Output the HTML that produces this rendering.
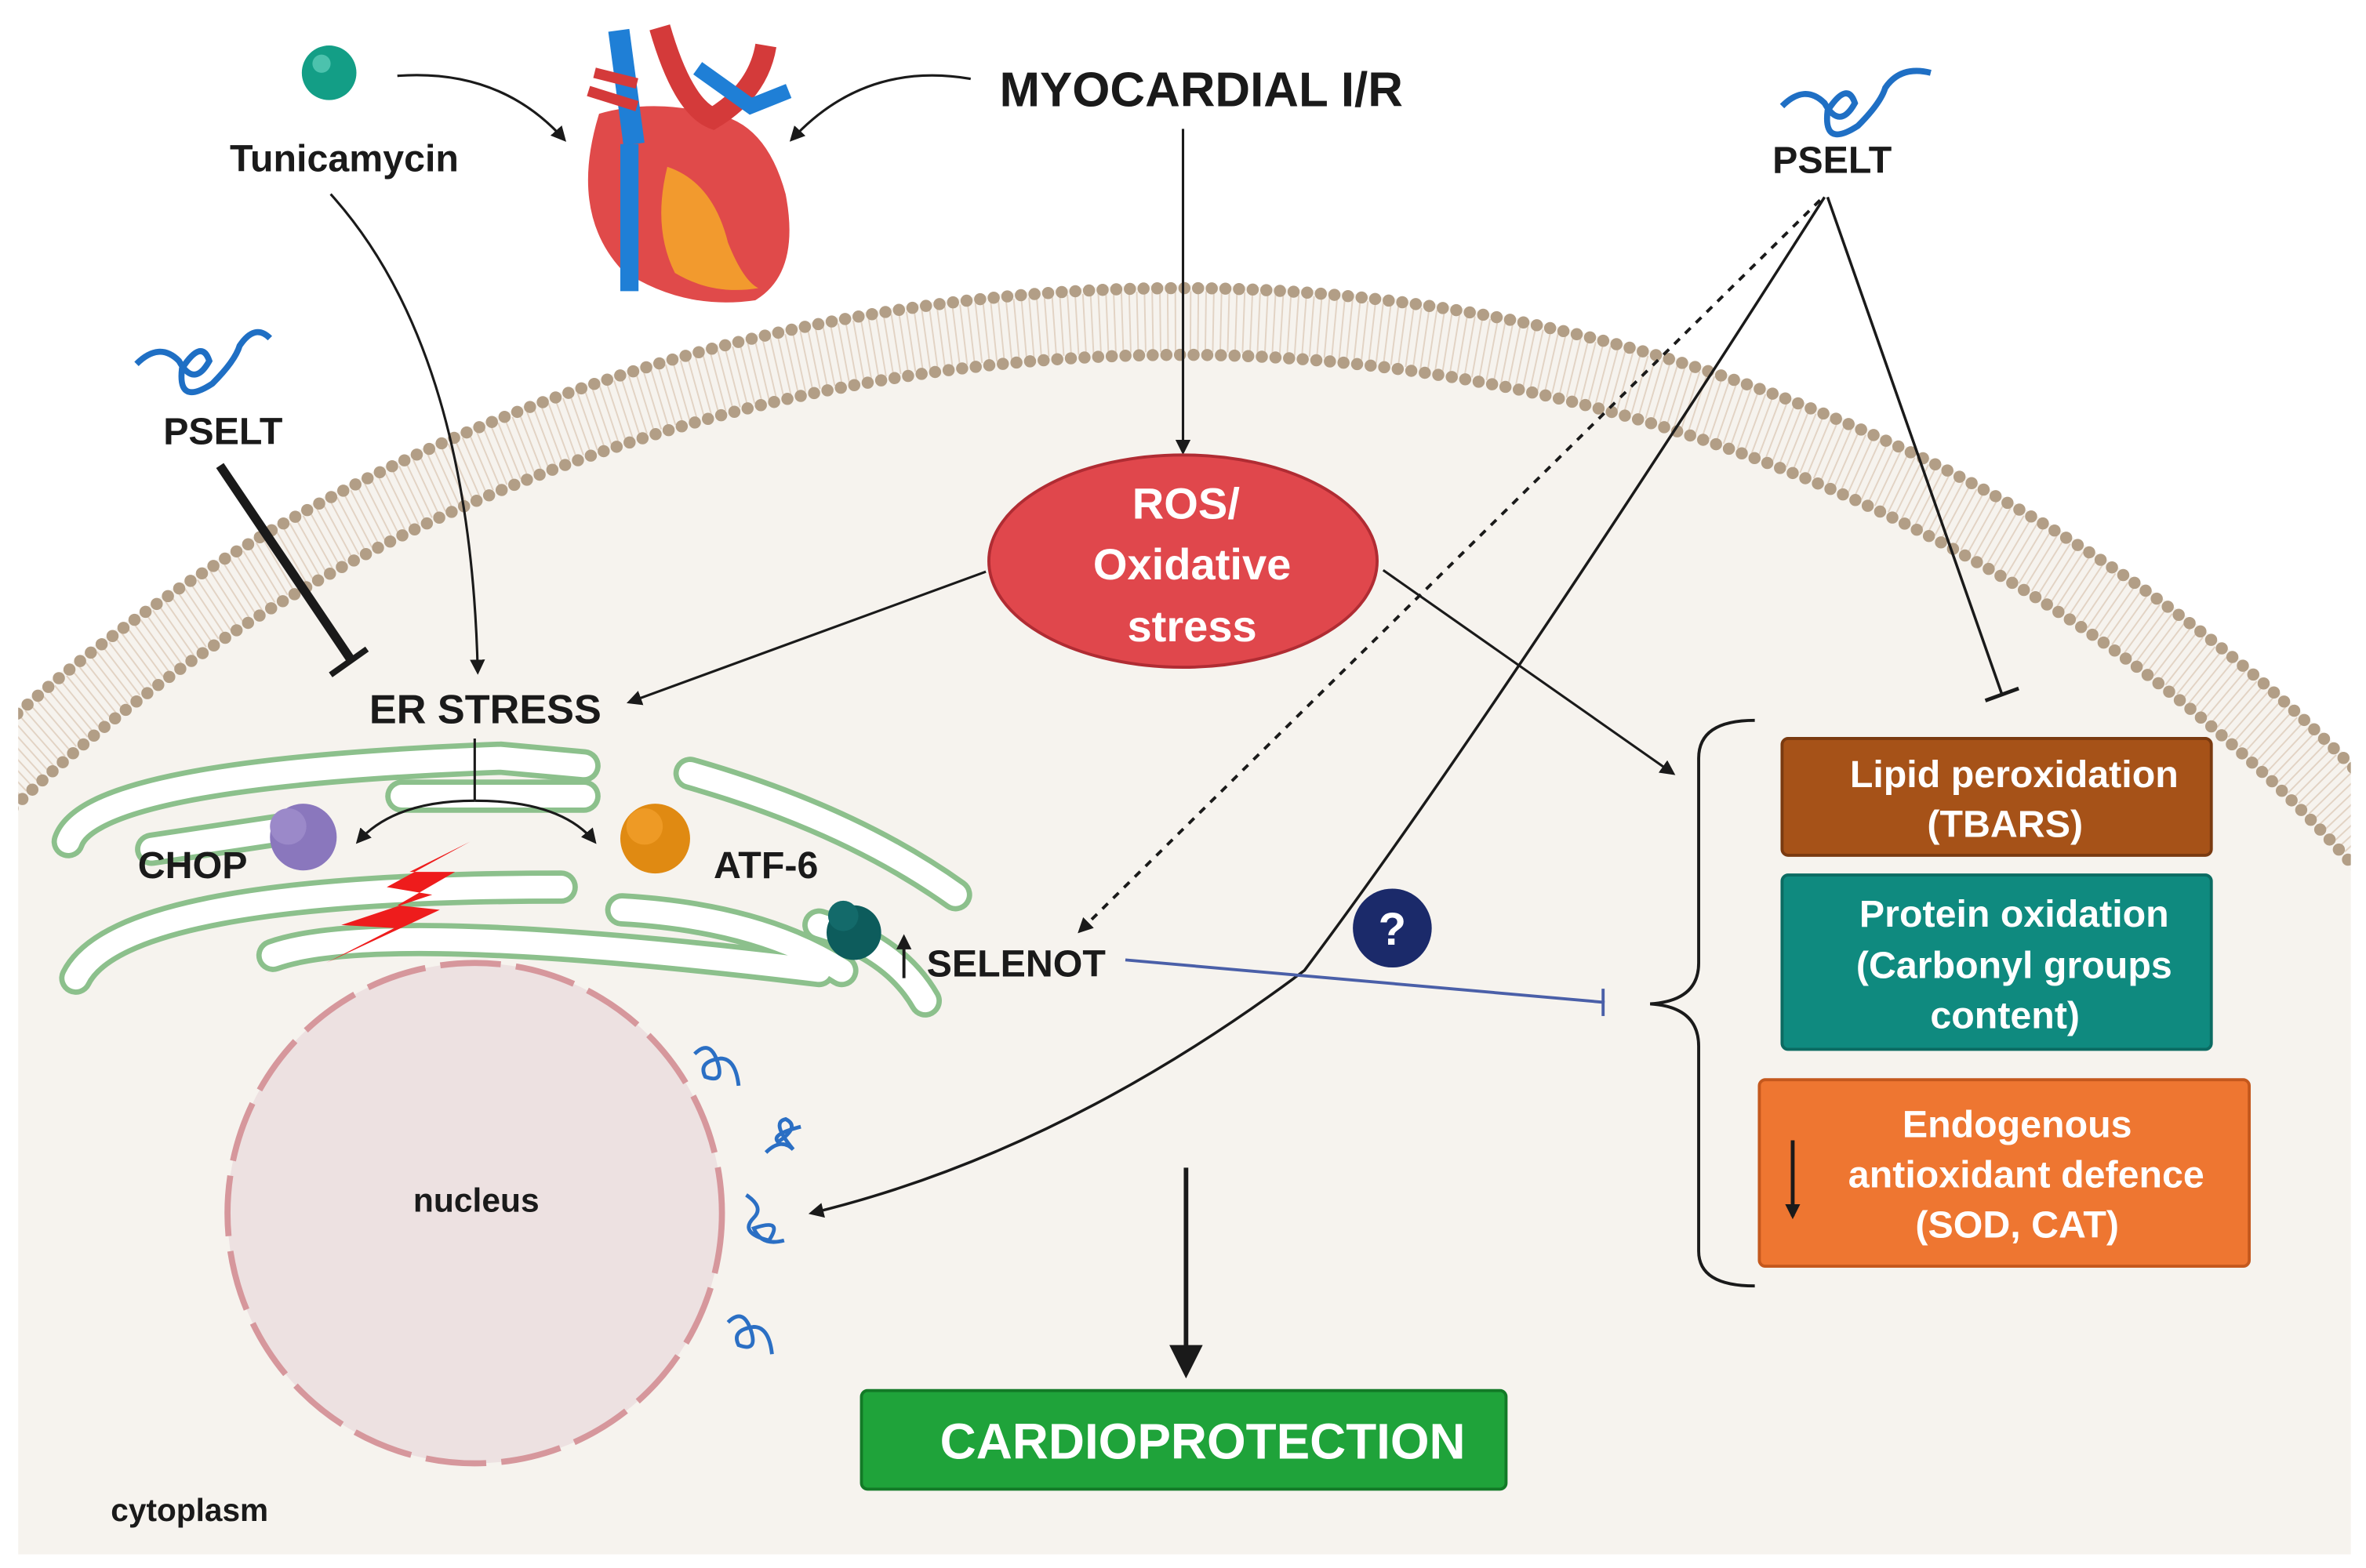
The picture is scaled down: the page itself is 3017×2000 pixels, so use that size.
<!DOCTYPE html>
<html><head><meta charset="utf-8"><style>
html,body{margin:0;padding:0;background:#fff;overflow:hidden;width:3017px;height:2000px;}
svg{display:block;}
text{font-family:"Liberation Sans",sans-serif;font-weight:bold;}
</style></head><body>
<svg width="3017" height="2000" viewBox="0 0 1560 1034" preserveAspectRatio="none" xmlns="http://www.w3.org/2000/svg">
<defs>
<marker id="ah" markerWidth="10" markerHeight="10" refX="8" refY="5" orient="auto" markerUnits="userSpaceOnUse"><path d="M0,0 L10,5 L0,10 z" fill="#1a1a1a"/></marker>
<marker id="ahb" markerWidth="22" markerHeight="22" refX="18" refY="11" orient="auto" markerUnits="userSpaceOnUse"><path d="M0,0 L22,11 L0,22 z" fill="#1a1a1a"/></marker>
<clipPath id="cell"><rect x="12" y="0" width="1538" height="1025"/></clipPath>
</defs>
<rect width="1560" height="1034" fill="#fff"/>
<g clip-path="url(#cell)">
  <path d="M-311,1150 A1091 962 0 0 1 780,188 A1043 962 0 0 1 1823,1150 Z" fill="#f6f3ee"/>
  <path d="M-286,1150 A1066 938 0 0 1 780,212 A1018 938 0 0 1 1798,1150" fill="none" stroke="#e2d3c4" stroke-width="40" stroke-dasharray="1 4"/>
  <path d="M-308,1150 A1088 960 0 0 1 780,190 A1040 960 0 0 1 1820,1150" fill="none" stroke="#b29e86" stroke-width="8" stroke-linecap="round" stroke-dasharray="0 9"/>
  <path d="M-264,1150 A1044 916 0 0 1 780,234 A996 916 0 0 1 1776,1150" fill="none" stroke="#b29e86" stroke-width="8" stroke-linecap="round" stroke-dasharray="0 9"/>
</g>

<!-- ER -->
<g fill="none" stroke-linecap="round">
 <g stroke="#8cc08c" stroke-width="22">
  <path d="M45,555 Q60,510 330,500 L385,505"/>
  <path d="M50,645 Q80,585 370,585"/>
  <path d="M100,560 L200,545"/>
  <path d="M265,525 L385,525"/>
  <path d="M180,630 Q250,605 540,640"/>
  <path d="M410,600 Q500,605 555,640"/>
  <path d="M455,510 Q560,540 630,590"/>
  <path d="M540,610 Q590,625 610,660"/>
 </g>
 <g stroke="#fff" stroke-width="15">
  <path d="M45,555 Q60,510 330,500 L385,505"/>
  <path d="M50,645 Q80,585 370,585"/>
  <path d="M100,560 L200,545"/>
  <path d="M265,525 L385,525"/>
  <path d="M180,630 Q250,605 540,640"/>
  <path d="M410,600 Q500,605 555,640"/>
  <path d="M455,510 Q560,540 630,590"/>
  <path d="M540,610 Q590,625 610,660"/>
 </g>
</g>
<polygon points="310,555 255,585 285,590 225,610 260,612 215,635 290,600 262,597 300,575 270,575" fill="#ee1c1c"/>
<circle cx="200" cy="552" r="22" fill="#8a77bd"/><circle cx="190" cy="545" r="12" fill="#9b89c9"/>
<circle cx="432" cy="553" r="23" fill="#e08a12"/><circle cx="425" cy="545" r="12" fill="#ee9a25"/>
<circle cx="563" cy="615" r="18" fill="#0d5c5c"/><circle cx="556" cy="604" r="10" fill="#136a6a"/>

<!-- nucleus -->
<ellipse cx="313" cy="800" rx="163" ry="165" fill="#ede1e1" stroke="#d6979c" stroke-width="4" stroke-dasharray="40 10"/>
<text x="314" y="799" font-size="22" text-anchor="middle" fill="#1a1a1a">nucleus</text>
<text x="125" y="1003" font-size="21" text-anchor="middle" fill="#1a1a1a">cytoplasm</text>
<g fill="none" stroke="#2b6fc4" stroke-width="2.5">
 <path d="M458,695 q10,-10 15,5 q5,15 -8,10 q-5,-10 10,-12 q10,0 12,18"/>
 <path d="M505,760 q10,-10 18,-2 q-15,-18 -5,-20 q10,5 -5,15 q-5,-5 15,-10"/>
 <path d="M492,788 q12,8 5,15 q-10,10 10,15 q10,-15 -10,-8 q5,12 20,8"/>
 <path d="M480,872 q10,-10 15,5 q5,15 -8,10 q-5,-10 10,-12 q10,0 12,18"/>
</g>

<!-- heart -->
<path d="M395,75 Q375,140 410,178 Q450,205 498,198 Q528,180 518,128 Q505,80 470,75 Q430,65 395,75z" fill="#e04a4a"/>
<path d="M440,110 Q470,120 480,160 Q490,185 500,190 Q470,195 445,180 Q430,150 440,110z" fill="#f29a2e"/>
<path d="M415,95 L415,192" stroke="#1f7fd6" stroke-width="12" fill="none"/>
<path d="M408,20 L418,95" stroke="#1f7fd6" stroke-width="14" fill="none"/>
<path d="M435,18 Q450,70 470,78 Q500,60 505,30" stroke="#d43a3a" stroke-width="14" fill="none"/>
<path d="M460,45 L495,70 L520,60" stroke="#1f7fd6" stroke-width="10" fill="none"/>
<path d="M388,60 L420,70 M392,48 L420,55" stroke="#d43a3a" stroke-width="7" fill="none"/>

<circle cx="217" cy="48" r="18" fill="#139e86"/><circle cx="212" cy="42" r="6" fill="#4cc2ad"/>
<text x="227" y="113" font-size="25" text-anchor="middle" fill="#1a1a1a">Tunicamycin</text>
<text x="792" y="70" font-size="32" text-anchor="middle" fill="#1a1a1a">MYOCARDIAL I/R</text>
<path d="M262,50 Q330,45 372,92" stroke="#1a1a1a" stroke-width="1.6" fill="none" marker-end="url(#ah)"/>
<path d="M640,52 Q570,40 522,92" stroke="#1a1a1a" stroke-width="1.6" fill="none" marker-end="url(#ah)"/>

<!-- PSELT squiggles -->
<path d="M90,240 q15,-15 28,-2 q10,18 20,0 q-5,-15 -18,5 q-3,25 20,10 q15,-15 18,-25 q10,-15 20,-5" stroke="#1f6fc4" stroke-width="4" fill="none"/>
<text x="147" y="293" font-size="25" text-anchor="middle" fill="#1a1a1a">PSELT</text>
<path d="M1175,70 q15,-15 28,-2 q10,18 20,0 q-5,-15 -18,5 q-3,25 20,10 q15,-15 18,-25 q10,-15 30,-10" stroke="#1f6fc4" stroke-width="4" fill="none"/>
<text x="1208" y="114" font-size="25" text-anchor="middle" fill="#1a1a1a">PSELT</text>

<!-- ROS -->
<path d="M780,85 L780,298" stroke="#1a1a1a" stroke-width="1.6" marker-end="url(#ah)"/>
<ellipse cx="780" cy="370" rx="128" ry="70" fill="#e0474c" stroke="#b02c33" stroke-width="2"/>
<text x="782" y="342" font-size="29" text-anchor="middle" fill="#fff">ROS/</text>
<text x="786" y="382" font-size="29" text-anchor="middle" fill="#fff">Oxidative</text>
<text x="786" y="423" font-size="29" text-anchor="middle" fill="#fff">stress</text>

<path d="M218,128 Q310,230 315,443" stroke="#1a1a1a" stroke-width="1.6" fill="none" marker-end="url(#ah)"/>
<path d="M145,307 L232,436" stroke="#1a1a1a" stroke-width="6"/>
<path d="M218,445 L242,428" stroke="#1a1a1a" stroke-width="4"/>
<text x="320" y="477" font-size="27" text-anchor="middle" fill="#1a1a1a">ER STRESS</text>
<path d="M650,377 L415,463" stroke="#1a1a1a" stroke-width="1.6" marker-end="url(#ah)"/>
<path d="M912,376 L1103,510" stroke="#1a1a1a" stroke-width="1.6" marker-end="url(#ah)"/>
<path d="M313,487 L313,528" stroke="#1a1a1a" stroke-width="1.6"/>
<path d="M313,528 Q260,528 236,555" stroke="#1a1a1a" stroke-width="1.6" fill="none" marker-end="url(#ah)"/>
<path d="M313,528 Q370,528 392,555" stroke="#1a1a1a" stroke-width="1.6" fill="none" marker-end="url(#ah)"/>
<text x="127" y="579" font-size="25" text-anchor="middle" fill="#1a1a1a">CHOP</text>
<text x="505" y="579" font-size="25" text-anchor="middle" fill="#1a1a1a">ATF-6</text>
<path d="M596,645 L596,618" stroke="#1a1a1a" stroke-width="2" marker-end="url(#ah)"/>
<text x="670" y="644" font-size="25" text-anchor="middle" fill="#1a1a1a">SELENOT</text>

<!-- PSELT right connectors -->
<path d="M1200,132 L712,614" stroke="#1a1a1a" stroke-width="2" stroke-dasharray="5 5" marker-end="url(#ah)"/>
<path d="M1203,130 Q980,480 860,640 Q700,760 535,800" stroke="#1a1a1a" stroke-width="1.8" fill="none" marker-end="url(#ah)"/>
<path d="M1205,130 L1320,458" stroke="#1a1a1a" stroke-width="1.8"/>
<path d="M1309,462 L1331,454" stroke="#1a1a1a" stroke-width="2.5"/>

<!-- blue inhibition -->
<path d="M742,633 L1058,661" stroke="#4a5fa8" stroke-width="2"/>
<path d="M1057,652 L1057,670" stroke="#4a5fa8" stroke-width="2"/>
<circle cx="918" cy="612" r="26" fill="#1b2a6a"/>
<text x="918" y="623" font-size="30" text-anchor="middle" fill="#fff">?</text>

<!-- brace -->
<path d="M1157,475 Q1120,475 1120,500 L1120,635 Q1120,660 1088,662 Q1120,664 1120,690 L1120,825 Q1120,848 1157,848" stroke="#1a1a1a" stroke-width="2" fill="none"/>

<!-- boxes -->
<rect x="1175" y="487" width="283" height="77" rx="4" fill="#a65218" stroke="#7a3a10" stroke-width="2"/>
<text x="1328" y="519" font-size="25" text-anchor="middle" fill="#fff">Lipid peroxidation</text>
<text x="1322" y="552" font-size="25" text-anchor="middle" fill="#fff">(TBARS)</text>
<rect x="1175" y="577" width="283" height="115" rx="4" fill="#0f8a7f" stroke="#0b6b62" stroke-width="2"/>
<text x="1328" y="611" font-size="25" text-anchor="middle" fill="#fff">Protein oxidation</text>
<text x="1328" y="645" font-size="25" text-anchor="middle" fill="#fff">(Carbonyl groups</text>
<text x="1322" y="678" font-size="25" text-anchor="middle" fill="#fff">content)</text>
<rect x="1160" y="712" width="323" height="123" rx="4" fill="#ee7631" stroke="#c4581d" stroke-width="2"/>
<text x="1330" y="750" font-size="25" text-anchor="middle" fill="#fff">Endogenous</text>
<text x="1336" y="783" font-size="25" text-anchor="middle" fill="#fff">antioxidant defence</text>
<text x="1330" y="816" font-size="25" text-anchor="middle" fill="#fff">(SOD, CAT)</text>
<path d="M1182,752 L1182,802" stroke="#1a1a1a" stroke-width="2.5" marker-end="url(#ah)"/>

<!-- cardioprotection -->
<path d="M782,770 L782,905" stroke="#1a1a1a" stroke-width="3" marker-end="url(#ahb)"/>
<rect x="568" y="917" width="425" height="65" rx="4" fill="#1fa33a" stroke="#137a27" stroke-width="2"/>
<text x="793" y="962" font-size="33" text-anchor="middle" fill="#fff">CARDIOPROTECTION</text>
</svg>
</body></html>
